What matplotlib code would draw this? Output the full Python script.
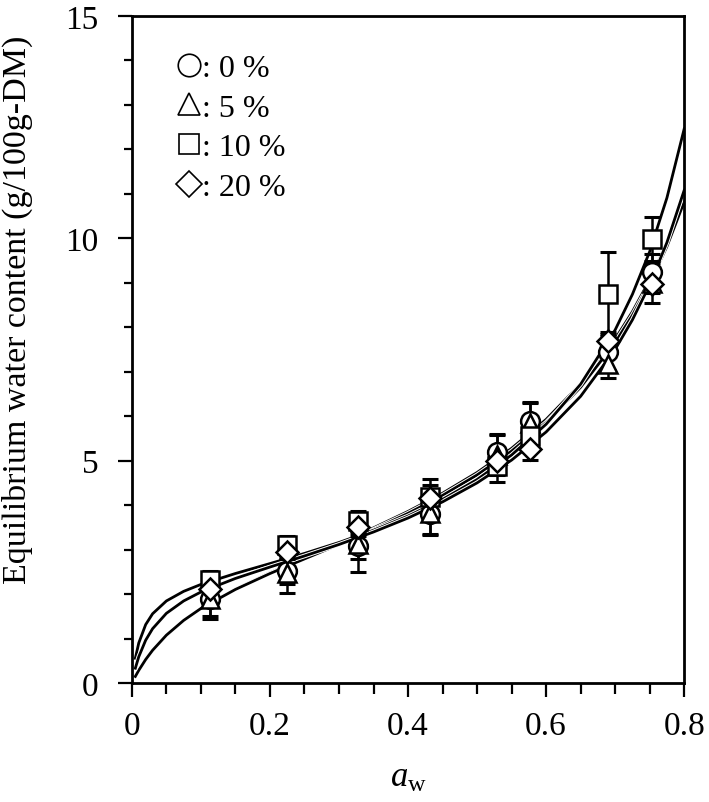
import matplotlib
matplotlib.use("Agg")
import matplotlib.pyplot as plt
import matplotlib.patheffects as pe
from matplotlib.lines import Line2D
from matplotlib.ticker import MultipleLocator

plt.rcParams['font.family'] = ['Liberation Serif', 'DejaVu Serif']
plt.rcParams['mathtext.fontset'] = 'custom'
plt.rcParams['mathtext.rm'] = 'Liberation Serif'
plt.rcParams['mathtext.it'] = 'Liberation Serif:italic'

# water activity of the salt solutions
aw = [0.113, 0.225, 0.328, 0.432, 0.529, 0.576, 0.689, 0.753]

# measured equilibrium water content (g/100g-DM) and error
m_0 = [1.89, 2.52, 3.08, 3.80, 5.20, 5.90, 7.44, 9.24]
e_0 = [0.45, 0.30, 0.30, 0.45, 0.40, 0.42, 0.40, 0.40]
m_5 = [1.90, 2.48, 3.12, 3.83, 5.12, 5.85, 7.17, 9.00]
e_5 = [0.40, 0.45, 0.62, 0.50, 0.45, 0.45, 0.30, 0.45]
m_10 = [2.32, 3.10, 3.64, 4.18, 4.88, 5.55, 8.75, 9.98]
e_10 = [0.20, 0.20, 0.22, 0.42, 0.35, 0.30, 0.95, 0.50]
m_20 = [2.11, 2.94, 3.50, 4.16, 5.00, 5.26, 7.69, 8.97]
e_20 = [0.20, 0.15, 0.20, 0.30, 0.20, 0.25, 0.20, 0.20]

# fitted sorption curves
aw_fit = [0.005, 0.01, 0.02, 0.03, 0.05, 0.075, 0.1, 0.15, 0.2, 0.25, 0.3,
          0.35, 0.4, 0.45, 0.5, 0.55, 0.6, 0.65, 0.7, 0.725, 0.75, 0.775, 0.8]
fit_0 = [0.148, 0.283, 0.522, 0.729, 1.069, 1.404, 1.676, 2.114, 2.48, 2.816,
         3.147, 3.491, 3.860, 4.269, 4.735, 5.278, 5.928, 6.725, 7.735, 8.350,
         9.063, 9.899, 10.90]
fit_5 = [0.151, 0.289, 0.532, 0.739, 1.079, 1.411, 1.679, 2.107, 2.464, 2.793,
         3.118, 3.454, 3.817, 4.220, 4.680, 5.217, 5.860, 6.652, 7.656, 8.269,
         8.981, 9.818, 10.82]
fit_10 = [0.558, 0.904, 1.317, 1.560, 1.848, 2.064, 2.219, 2.465, 2.688, 2.916,
          3.162, 3.438, 3.756, 4.130, 4.577, 5.128, 5.82, 6.72, 7.94, 8.74,
          9.70, 10.91, 12.46]
fit_20 = [0.336, 0.594, 0.966, 1.224, 1.570, 1.848, 2.049, 2.354, 2.61, 2.859,
          3.117, 3.398, 3.712, 4.075, 4.502, 5.014, 5.646, 6.448, 7.503, 8.166,
          8.954, 9.906, 11.08]

series = [
    (m_0, e_0, 'o', ': 0 %'),
    (m_5, e_5, '^', ': 5 %'),
    (m_10, e_10, 's', ': 10 %'),
    (m_20, e_20, 'D', ': 20 %'),
]
sizes = {'o': 13.5, '^': 13.5, 's': 12.5, 'D': 11}

fig = plt.figure(figsize=(7.09, 8.03), dpi=100)
ax = fig.add_axes([0.186, 0.148, 0.779, 0.831])

for fit in [fit_0, fit_5, fit_10, fit_20]:
    ax.plot(aw_fit, fit, color='black', lw=2.0, zorder=2,
            path_effects=[pe.withStroke(linewidth=3.4, foreground='white')])

for m, e, mk, lab in series:
    ax.errorbar(aw, m, yerr=e, fmt='none', ecolor='black', elinewidth=1.8,
                capsize=6, capthick=2.2, zorder=3)
    ax.plot(aw, m, linestyle='none', marker=mk, markersize=sizes[mk],
            markerfacecolor='white', markeredgecolor='black',
            markeredgewidth=1.8, zorder=4)

ax.set_xlim(0, 0.8)
ax.set_ylim(0, 15)
ax.set_xticks([0, 0.2, 0.4, 0.6, 0.8])
ax.set_xticklabels(['0', '0.2', '0.4', '0.6', '0.8'])
ax.xaxis.set_minor_locator(MultipleLocator(0.05))
ax.yaxis.set_major_locator(MultipleLocator(5))
ax.yaxis.set_minor_locator(MultipleLocator(1))
ax.tick_params(axis='both', which='major', direction='out', length=10,
               width=1.6, labelsize=24)
ax.tick_params(axis='x', which='major', pad=10)
ax.tick_params(axis='y', which='major', pad=14)
ax.tick_params(axis='both', which='minor', direction='out', length=8,
               width=1.6)
ax.tick_params(axis='y', which='minor', length=6)
for sp in ax.spines.values():
    sp.set_linewidth(2.0)

ax.set_xlabel(r'$a_{\mathrm{w}}$', fontsize=25)
ax.xaxis.set_label_coords(0.5, -0.117)
ax.set_ylabel('Equilibrium water content (g/100g-DM)', fontsize=24.5)
ax.yaxis.set_label_coords(-0.179, 0.561)

handles = [Line2D([], [], linestyle='none', marker=mk, markersize=sizes[mk] * 1.2,
                  markerfacecolor='white', markeredgecolor='black',
                  markeredgewidth=1.2) for _, _, mk, _ in series]
labels = [lab for _, _, _, lab in series]
ax.legend(handles, labels, loc='upper left', bbox_to_anchor=(0.058, 0.963),
          frameon=False, fontsize=23, handlelength=0.8, handletextpad=0.0,
          labelspacing=0.33, borderaxespad=0.0)

fig.savefig('out.png', dpi=100)
